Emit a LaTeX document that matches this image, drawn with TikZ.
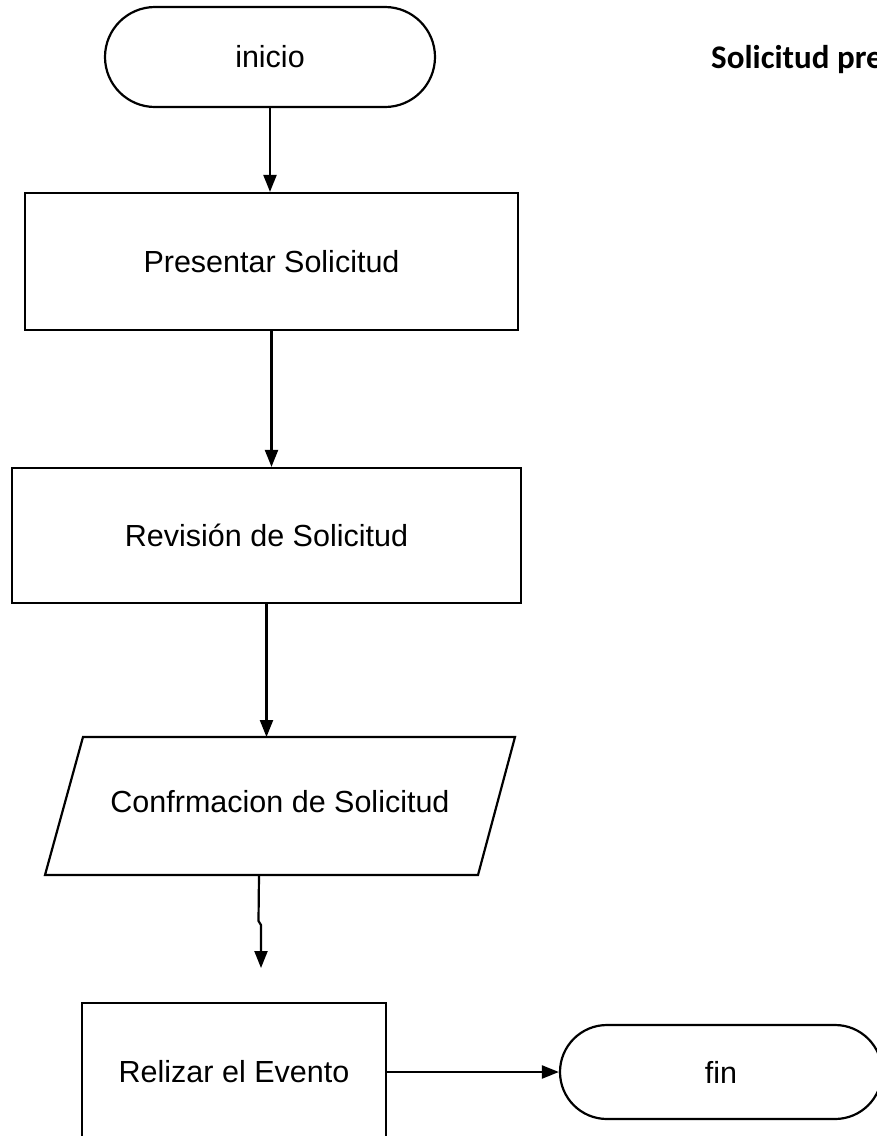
\documentclass[tikz,border=0pt]{standalone}
\usepackage{fontspec}
\setmainfont{Liberation Sans}
\newfontfamily\titlefont{Carlito}
\usetikzlibrary{arrows.meta,shapes.misc}
\begin{document}
\begin{tikzpicture}[x=1pt,y=-1pt,
  every node/.style={font=\fontsize{30.5}{36}\selectfont},
  flow/.style={draw, line width=2.2pt, inner sep=0pt},
  procbox/.style={flow, rectangle},
  term/.style={flow, rounded rectangle},
  conn/.style={line width=2.2pt, -{Triangle[length=17pt,width=13pt]}},
  outline/.style={line width=2.2pt},
]
\useasboundingbox (0,0) rectangle (877,1136);
\clip (0,0) rectangle (877,1136);
\fill[white] (0,0) rectangle (877,1136);

\node[term, minimum width=330pt, minimum height=100pt] (inicio) at (270,57) {inicio};
\node[procbox, minimum width=493pt, minimum height=137pt] (pres) at (271.5,261.5) {Presentar Solicitud};
\node[procbox, minimum width=509pt, minimum height=135pt] (rev) at (266.5,535.5) {Revisión de Solicitud};

\coordinate (ptl) at (83,737);
\coordinate (ptr) at (515,737);
\coordinate (pbr) at (478,875);
\coordinate (pbl) at (45,875);
\draw[outline] (ptl) -- (ptr) -- (pbr) -- (pbl) -- cycle;
\node (conf) at (280,802) {Confrmacion de Solicitud};

\node[procbox, minimum width=304pt, minimum height=138pt] (even) at (234,1072) {Relizar el Evento};
\node[term, minimum width=322pt, minimum height=94pt] (fin) at (721,1072) {fin};

\node[font=\titlefont\bfseries\fontsize{33}{38}\selectfont, anchor=base west, inner sep=0pt] (title) at (711,68) {Solicitud pre};

\coordinate (ptop) at (267,737);
\coordinate (pbot) at (259,875);
\coordinate (jogA) at (258.5,921);
\coordinate (jogB) at (261,925);
\coordinate (tip) at (261,968);

\draw[conn] (inicio.south) -- (inicio.south |- pres.north);
\draw[conn] (pres.south) -- (pres.south |- rev.north);
\draw[conn] (rev.south) -- (rev.south |- ptop);
\draw[conn] (pbot) -- (jogA) -- (jogB) -- (tip);
\draw[conn] (even.east) -- (fin.west);
\end{tikzpicture}
\end{document}
